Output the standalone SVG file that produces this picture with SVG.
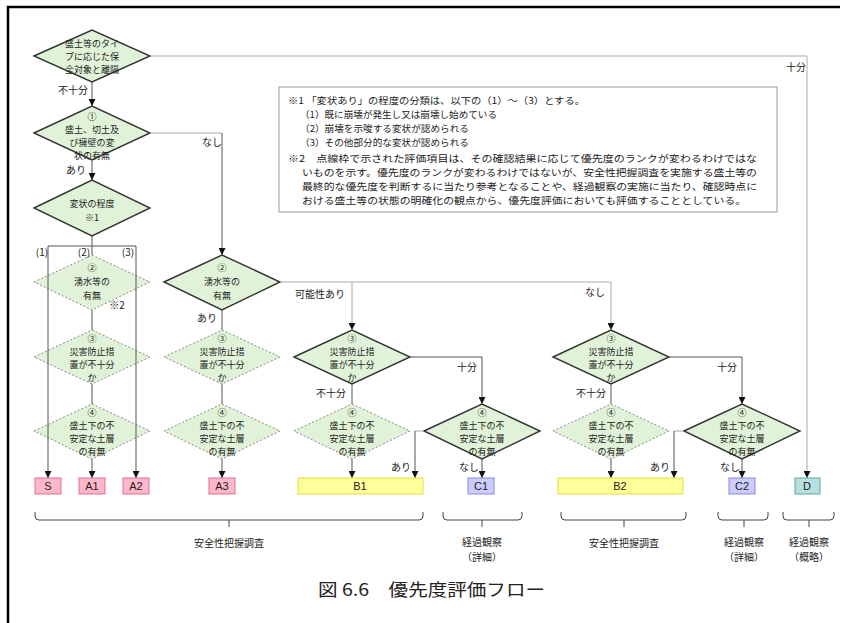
<svg xmlns="http://www.w3.org/2000/svg" width="845" height="623" viewBox="0 0 845 623">
<defs>
<marker id="ah" viewBox="0 0 8 8" refX="8" refY="4" markerWidth="7" markerHeight="7" orient="auto" markerUnits="userSpaceOnUse">
<path d="M0,0 L8,4 L0,8 z" fill="#111"/>
</marker>
<style>
text{font-family:"Noto Sans CJK JP","Noto Sans CJK SC",sans-serif;fill:#222}
.dt{font-size:9px;text-anchor:middle}
.lb{font-size:10px}
.nt{font-size:9.6px}
.solid{fill:#e0f3d8;stroke:#333;stroke-width:1.4}
.dash{fill:#e0f3d8;stroke:#888;stroke-width:1;stroke-dasharray:2 2}
.c{fill:none;stroke:#555;stroke-width:1}
.g{fill:none;stroke:#aaa;stroke-width:1}
.a{marker-end:url(#ah)}
.pk{fill:#ffb8c9;stroke:#e0708c;stroke-width:1}
.yl{fill:#ffff99;stroke:#e0e040;stroke-width:1}
.lv{fill:#ccccff;stroke:#8888dd;stroke-width:1}
.tl{fill:#b8e0e0;stroke:#5fa3a6;stroke-width:1}
.bx{font-family:"Liberation Sans",sans-serif;font-size:11px;text-anchor:middle}
.br{fill:none;stroke:#444;stroke-width:1}
.bt{font-size:10px;text-anchor:middle}
</style>
</defs>
<rect width="845" height="623" fill="#fff"/>
<path d="M8,623 V7 H840" fill="none" stroke="#000" stroke-width="2.5"/>

<g id="note">
<rect x="279" y="87" width="498" height="125" fill="#fff" stroke="#999" stroke-width="1"/>
<text class="nt" x="288" y="104" textLength="297" lengthAdjust="spacingAndGlyphs">※1 「変状あり」の程度の分類は、以下の（1）～（3）とする。</text>
<text class="nt" x="300" y="118" textLength="197" lengthAdjust="spacingAndGlyphs">（1）既に崩壊が発生し又は崩壊し始めている</text>
<text class="nt" x="300" y="132" textLength="169" lengthAdjust="spacingAndGlyphs">（2）崩壊を示唆する変状が認められる</text>
<text class="nt" x="300" y="146" textLength="169" lengthAdjust="spacingAndGlyphs">（3）その他部分的な変状が認められる</text>
<text class="nt" x="288" y="162" textLength="469" lengthAdjust="spacingAndGlyphs">※2　点線枠で示された評価項目は、その確認結果に応じて優先度のランクが変わるわけではな</text>
<text class="nt" x="302" y="176" textLength="455" lengthAdjust="spacingAndGlyphs">いものを示す。優先度のランクが変わるわけではないが、安全性把握調査を実施する盛土等の</text>
<text class="nt" x="302" y="190" textLength="455" lengthAdjust="spacingAndGlyphs">最終的な優先度を判断するに当たり参考となることや、経過観察の実施に当たり、確認時点に</text>
<text class="nt" x="302" y="204" textLength="444" lengthAdjust="spacingAndGlyphs">おける盛土等の状態の明確化の観点から、優先度評価においても評価することとしている。</text>
</g>

<g id="n0"><path class="solid" d="M34,56 L92,30 L150,56 L92,82 z"/>
<text class="dt" x="92" y="47">盛土等のタイ</text><text class="dt" x="92" y="60">プに応じた保</text><text class="dt" x="92" y="73">全対象と離隔</text></g>
<g id="n1"><path class="solid" d="M34,133 L92,106 L150,133 L92,160 z"/>
<text class="dt" x="92" y="120">①</text><text class="dt" x="92" y="133">盛土、切土及</text><text class="dt" x="92" y="146">び擁壁の変</text><text class="dt" x="92" y="159">状の有無</text></g>
<g id="n2"><path class="solid" d="M34,208 L92,180 L150,208 L92,236 z"/>
<text class="dt" x="92" y="207">変状の程度</text><text class="dt" x="92" y="221">※1</text></g>

<g id="L2"><path class="dash" d="M34,282 L92,255 L150,282 L92,310 z"/>
<text class="dt" x="92" y="271">②</text><text class="dt" x="92" y="285">湧水等の</text><text class="dt" x="92" y="299">有無</text></g>
<g id="L3"><path class="dash" d="M34,357 L92,330 L150,357 L92,384 z"/>
<text class="dt" x="92" y="342">③</text><text class="dt" x="92" y="355">災害防止措</text><text class="dt" x="92" y="368">置が不十分</text><text class="dt" x="92" y="381">か</text></g>
<g id="L4"><path class="dash" d="M34,431 L92,404 L150,431 L92,459 z"/>
<text class="dt" x="92" y="416">④</text><text class="dt" x="92" y="429">盛土下の不</text><text class="dt" x="92" y="442">安定な土層</text><text class="dt" x="92" y="455">の有無</text></g>

<g id="M2"><path class="solid" d="M164,282 L222,255 L280,282 L222,310 z"/>
<text class="dt" x="222" y="271">②</text><text class="dt" x="222" y="285">湧水等の</text><text class="dt" x="222" y="299">有無</text></g>
<g id="M3"><path class="dash" d="M164,357 L222,330 L280,357 L222,384 z"/>
<text class="dt" x="222" y="342">③</text><text class="dt" x="222" y="355">災害防止措</text><text class="dt" x="222" y="368">置が不十分</text><text class="dt" x="222" y="381">か</text></g>
<g id="M4"><path class="dash" d="M164,431 L222,404 L280,431 L222,459 z"/>
<text class="dt" x="222" y="416">④</text><text class="dt" x="222" y="429">盛土下の不</text><text class="dt" x="222" y="442">安定な土層</text><text class="dt" x="222" y="455">の有無</text></g>

<g id="B3"><path class="solid" d="M294,357 L352,330 L410,357 L352,384 z"/>
<text class="dt" x="352" y="342">③</text><text class="dt" x="352" y="355">災害防止措</text><text class="dt" x="352" y="368">置が不十分</text><text class="dt" x="352" y="381">か</text></g>
<g id="B4"><path class="dash" d="M294,431 L352,404 L410,431 L352,459 z"/>
<text class="dt" x="352" y="416">④</text><text class="dt" x="352" y="429">盛土下の不</text><text class="dt" x="352" y="442">安定な土層</text><text class="dt" x="352" y="455">の有無</text></g>
<g id="C4"><path class="solid" d="M424,431 L482,404 L540,431 L482,459 z"/>
<text class="dt" x="482" y="416">④</text><text class="dt" x="482" y="429">盛土下の不</text><text class="dt" x="482" y="442">安定な土層</text><text class="dt" x="482" y="455">の有無</text></g>

<g id="E3"><path class="solid" d="M553,357 L611,330 L669,357 L611,384 z"/>
<text class="dt" x="611" y="342">③</text><text class="dt" x="611" y="355">災害防止措</text><text class="dt" x="611" y="368">置が不十分</text><text class="dt" x="611" y="381">か</text></g>
<g id="E4"><path class="dash" d="M553,431 L611,404 L669,431 L611,459 z"/>
<text class="dt" x="611" y="416">④</text><text class="dt" x="611" y="429">盛土下の不</text><text class="dt" x="611" y="442">安定な土層</text><text class="dt" x="611" y="455">の有無</text></g>
<g id="F4"><path class="solid" d="M684,431 L742,404 L800,431 L742,459 z"/>
<text class="dt" x="742" y="416">④</text><text class="dt" x="742" y="429">盛土下の不</text><text class="dt" x="742" y="442">安定な土層</text><text class="dt" x="742" y="455">の有無</text></g>

<g id="connectors">
<path class="c a" d="M92,82 V106"/>
<path class="g a" d="M150,56 H807 V478"/>
<path class="c a" d="M92,160 V180"/>
<path class="g" d="M150,133 H222"/><path class="c a" d="M222,133 V255"/>
<path class="c" d="M92,236 V246 M48,246 H136 M92,246 V255"/>
<path class="c a" d="M48,246 V478"/>
<path class="c a" d="M136,246 V478"/>
<path class="c" d="M92,310 V330 M92,384 V404"/>
<path class="c a" d="M92,459 V478"/>
<path class="c" d="M222,310 V330 M222,384 V404"/>
<path class="c a" d="M222,459 V478"/>
<path class="g" d="M280,282 H611"/>
<path class="g a" d="M352,282 V330"/>
<path class="g a" d="M611,282 V330"/>
<path class="c" d="M352,384 V404"/>
<path class="c a" d="M410,357 H482 V404"/>
<path class="c a" d="M352,459 V478"/>
<path class="g" d="M424,431 H415"/><path class="c a" d="M415,431 V478"/>
<path class="c a" d="M482,459 V478"/>
<path class="c" d="M611,384 V404"/>
<path class="c a" d="M669,357 H742 V404"/>
<path class="c a" d="M611,459 V478"/>
<path class="g" d="M684,431 H674"/><path class="c a" d="M674,431 V478"/>
<path class="c a" d="M742,459 V478"/>
</g>

<g id="labels">
<text class="lb" x="796" y="71" text-anchor="middle">十分</text>
<text class="lb" x="88" y="94" text-anchor="end">不十分</text>
<text class="lb" x="212" y="146" text-anchor="middle">なし</text>
<text class="lb" x="86" y="174" text-anchor="end">あり</text>
<text class="lb" x="42" y="256" text-anchor="middle" font-size="9">(1)</text>
<text class="lb" x="84" y="256" text-anchor="middle" font-size="9">(2)</text>
<text class="lb" x="128" y="256" text-anchor="middle" font-size="9">(3)</text>
<text class="lb" x="117" y="309" text-anchor="middle" font-size="9">※2</text>
<text class="lb" x="217" y="322" text-anchor="end">あり</text>
<text class="lb" x="320" y="298" text-anchor="middle">可能性あり</text>
<text class="lb" x="595" y="296" text-anchor="middle">なし</text>
<text class="lb" x="467" y="371" text-anchor="middle">十分</text>
<text class="lb" x="727" y="371" text-anchor="middle">十分</text>
<text class="lb" x="346" y="397" text-anchor="end">不十分</text>
<text class="lb" x="606" y="397" text-anchor="end">不十分</text>
<text class="lb" x="411" y="471" text-anchor="end">あり</text>
<text class="lb" x="479" y="471" text-anchor="end">なし</text>
<text class="lb" x="670" y="471" text-anchor="end">あり</text>
<text class="lb" x="740" y="471" text-anchor="end">なし</text>
</g>

<g id="rS"><rect class="pk" x="35" y="478" width="26" height="16"/><text class="bx" x="48" y="490">S</text></g>
<g id="rA1"><rect class="pk" x="79" y="478" width="26" height="16"/><text class="bx" x="92" y="490">A1</text></g>
<g id="rA2"><rect class="pk" x="123" y="478" width="26" height="16"/><text class="bx" x="136" y="490">A2</text></g>
<g id="rA3"><rect class="pk" x="209" y="478" width="26" height="16"/><text class="bx" x="222" y="490">A3</text></g>
<g id="rB1"><rect class="yl" x="298" y="478" width="125" height="16"/><text class="bx" x="360" y="490">B1</text></g>
<g id="rC1"><rect class="lv" x="468" y="478" width="26" height="16"/><text class="bx" x="481" y="490">C1</text></g>
<g id="rB2"><rect class="yl" x="558" y="478" width="125" height="16"/><text class="bx" x="620" y="490">B2</text></g>
<g id="rC2"><rect class="lv" x="729" y="478" width="26" height="16"/><text class="bx" x="742" y="490">C2</text></g>
<g id="rD"><rect class="tl" x="795" y="478" width="25" height="16"/><text class="bx" x="807" y="490">D</text></g>

<g id="braces">
<path class="br" d="M35,512 V516 Q35,520 39,520 H419 Q423,520 423,516 V512 M229,520 V527"/>
<path class="br" d="M443,512 V516 Q443,520 447,520 H518 Q522,520 522,516 V512 M482,520 V527"/>
<path class="br" d="M561,512 V516 Q561,520 565,520 H682 Q686,520 686,516 V512 M624,520 V527"/>
<path class="br" d="M718,512 V516 Q718,520 722,520 H764 Q768,520 768,516 V512 M744,520 V527"/>
<path class="br" d="M783,512 V516 Q783,520 787,520 H830 Q834,520 834,516 V512 M809,520 V527"/>
<text class="bt" x="229" y="547">安全性把握調査</text>
<text class="bt" x="482" y="546">経過観察</text><text class="bt" x="482" y="561">（詳細）</text>
<text class="bt" x="624" y="547">安全性把握調査</text>
<text class="bt" x="744" y="546">経過観察</text><text class="bt" x="744" y="561">（詳細）</text>
<text class="bt" x="809" y="546">経過観察</text><text class="bt" x="809" y="561">（概略）</text>
</g>

<text x="318" y="596" font-size="17" textLength="227" lengthAdjust="spacingAndGlyphs">図 6.6　優先度評価フロー</text>
</svg>
